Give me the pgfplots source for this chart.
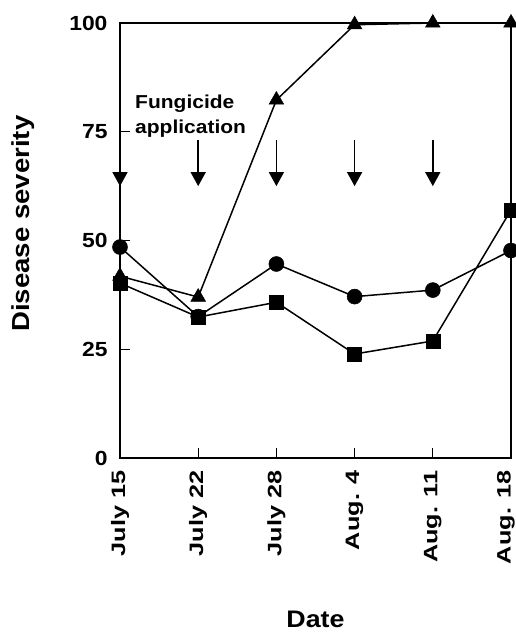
\documentclass[border=0pt]{standalone}
\usepackage{pgfplots}
\pgfplotsset{compat=1.18}
\usepackage{fontspec}
\setmainfont{Liberation Sans}
\newfontfamily\fA[FakeStretch=1.12]{Liberation Sans}
\newfontfamily\fX[FakeStretch=1.3]{Liberation Sans}
\usetikzlibrary{arrows.meta}
\begin{document}
\begin{tikzpicture}
\begin{axis}[
  name=ax,
  width=391bp, height=435bp, scale only axis,
  xmin=0, xmax=5, ymin=0, ymax=100,
  xtick={0,1,2,3,4,5},
  xticklabels={July 15, July 22, July 28, Aug. 4, Aug. 11, {\raisebox{5bp}[\height][\depth]{Aug. 18}}},
  ytick={0,25,50,75,100},
  xtick pos=bottom, ytick pos=left,
  tick align=inside, major tick length=10bp,
  axis line style={line width=1.5bp},
  tick style={line width=1.2bp, black},
  /pgf/number format/assume math mode=true,
  xticklabel shift=9bp,
  xticklabel style={font=\fX\fontsize{19.5}{22}\selectfont\bfseries, rotate=90, anchor=east},
  yticklabel style={font=\fA\fontsize{20.5}{22}\selectfont\bfseries, xshift=-9bp},
  xlabel={Date}, ylabel={Disease severity},
  xlabel style={font=\fA\fontsize{24}{26}\selectfont\bfseries, at={(axis description cs:0.5,-0.370)}, anchor=center},
  ylabel style={font=\fA\fontsize{24.7}{26}\selectfont\bfseries, at={(axis description cs:-0.247,0.539)}, anchor=center},
  clip=false,
]
\addplot[black, line width=1.5bp, mark=*, mark size=7.5bp, mark options={solid, line width=0.5bp, fill=black}]
  coordinates {(0,48.5)(1,32.5)(2,44.6)(3,37.1)(4,38.6)(5,47.7)};
\addplot[black, line width=1.5bp, mark=square*, mark size=7bp, mark options={solid, line width=0.5bp, fill=black}]
  coordinates {(0,40.2)(1,32.4)(2,35.8)(3,23.9)(4,26.9)(5,57.0)};
\addplot[black, line width=1.5bp, mark=triangle*, mark size=8.5bp, mark options={solid, line width=0.5bp, fill=black}]
  coordinates {(0,41.8)(1,37.0)(2,82.3)(3,99.6)(4,100)(5,100)};
\addplot[black, line width=1.5bp, -{Triangle[width=15bp,length=14bp]}, quiver={u=0, v=-10.5}, mark=none]
  coordinates {(0,73)(1,73)(2,73)(3,73)(4,73)};
\node[anchor=west, align=left, font=\fA\fontsize{18.8}{25}\selectfont\bfseries] at (axis cs:0.15,78.6) {Fungicide\\application};
\end{axis}
\pgfresetboundingbox
\path[use as bounding box] ([shift={(-120bp,-174bp)}]ax.south west) rectangle ([shift={(5bp,23bp)}]ax.north east);
\end{tikzpicture}
\end{document}
